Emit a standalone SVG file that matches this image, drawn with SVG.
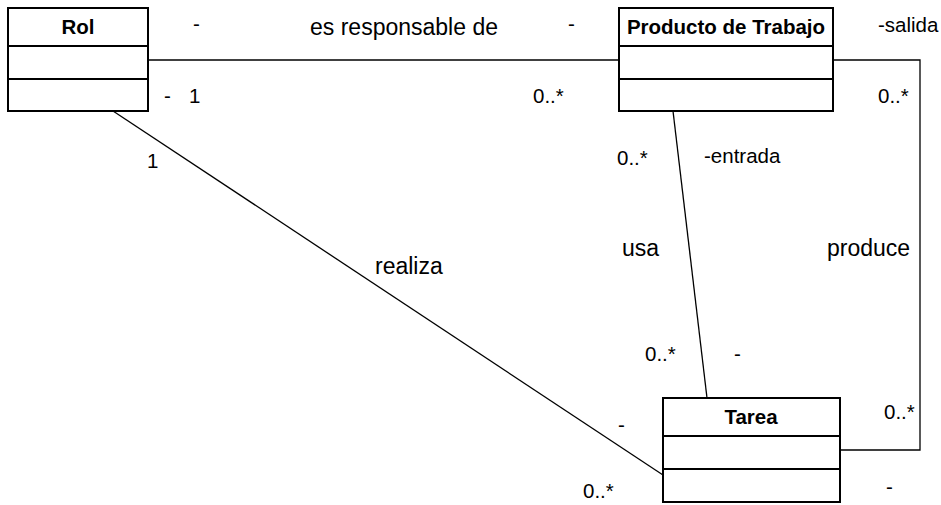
<svg xmlns="http://www.w3.org/2000/svg" width="941" height="505" viewBox="0 0 941 505">
<style>
.box{fill:#fff;stroke:#000;stroke-width:2}
.div{stroke:#000;stroke-width:2}
.ln{fill:none;stroke:#000;stroke-width:1.3}
.t{font-family:"Liberation Sans",Arial,sans-serif;font-weight:bold;font-size:20.5px;text-anchor:middle;fill:#000}
.l{font-family:"Liberation Sans",Arial,sans-serif;font-size:20.5px;fill:#000}
.a{font-family:"Liberation Sans",Arial,sans-serif;font-size:23px;fill:#000}
</style>
<rect width="941" height="505" fill="#fff"/>
<g id="connectors">
<line class="ln" x1="148" y1="60" x2="619" y2="60"/>
<polyline class="ln" points="833,60 920,60 920,450 840,450"/>
<line class="ln" x1="673" y1="111" x2="707" y2="398"/>
<line class="ln" x1="113" y1="111" x2="663" y2="475"/>
<text class="l" x="193" y="31">-</text>
<text class="a" x="310" y="35">es responsable de</text>
<text class="l" x="568" y="31">-</text>
<text class="l" x="878" y="32">-salida</text>
<text class="l" x="164" y="103">-</text>
<text class="l" x="189" y="103">1</text>
<text class="l" x="533" y="103">0..*</text>
<text class="l" x="878" y="103">0..*</text>
<text class="l" x="147" y="168">1</text>
<text class="l" x="617" y="165">0..*</text>
<text class="l" x="704" y="163">-entrada</text>
<text class="a" x="375" y="274">realiza</text>
<text class="a" x="622" y="256">usa</text>
<text class="a" x="827" y="256">produce</text>
<text class="l" x="645" y="361">0..*</text>
<text class="l" x="734" y="361">-</text>
<text class="l" x="884" y="419">0..*</text>
<text class="l" x="618" y="432">-</text>
<text class="l" x="583" y="498">0..*</text>
<text class="l" x="886" y="494">-</text>
</g>
<g id="rol">
<rect class="box" x="8" y="8" width="140" height="103"/>
<line class="div" x1="8" y1="46" x2="148" y2="46"/>
<line class="div" x1="8" y1="79" x2="148" y2="79"/>
<text class="t" x="78" y="34">Rol</text>
</g>
<g id="producto">
<rect class="box" x="619" y="8" width="214" height="103"/>
<line class="div" x1="619" y1="46" x2="833" y2="46"/>
<line class="div" x1="619" y1="79" x2="833" y2="79"/>
<text class="t" x="726" y="34">Producto de Trabajo</text>
</g>
<g id="tarea">
<rect class="box" x="663" y="398" width="177" height="104"/>
<line class="div" x1="663" y1="436" x2="840" y2="436"/>
<line class="div" x1="663" y1="469" x2="840" y2="469"/>
<text class="t" x="751" y="424">Tarea</text>
</g>
</svg>
